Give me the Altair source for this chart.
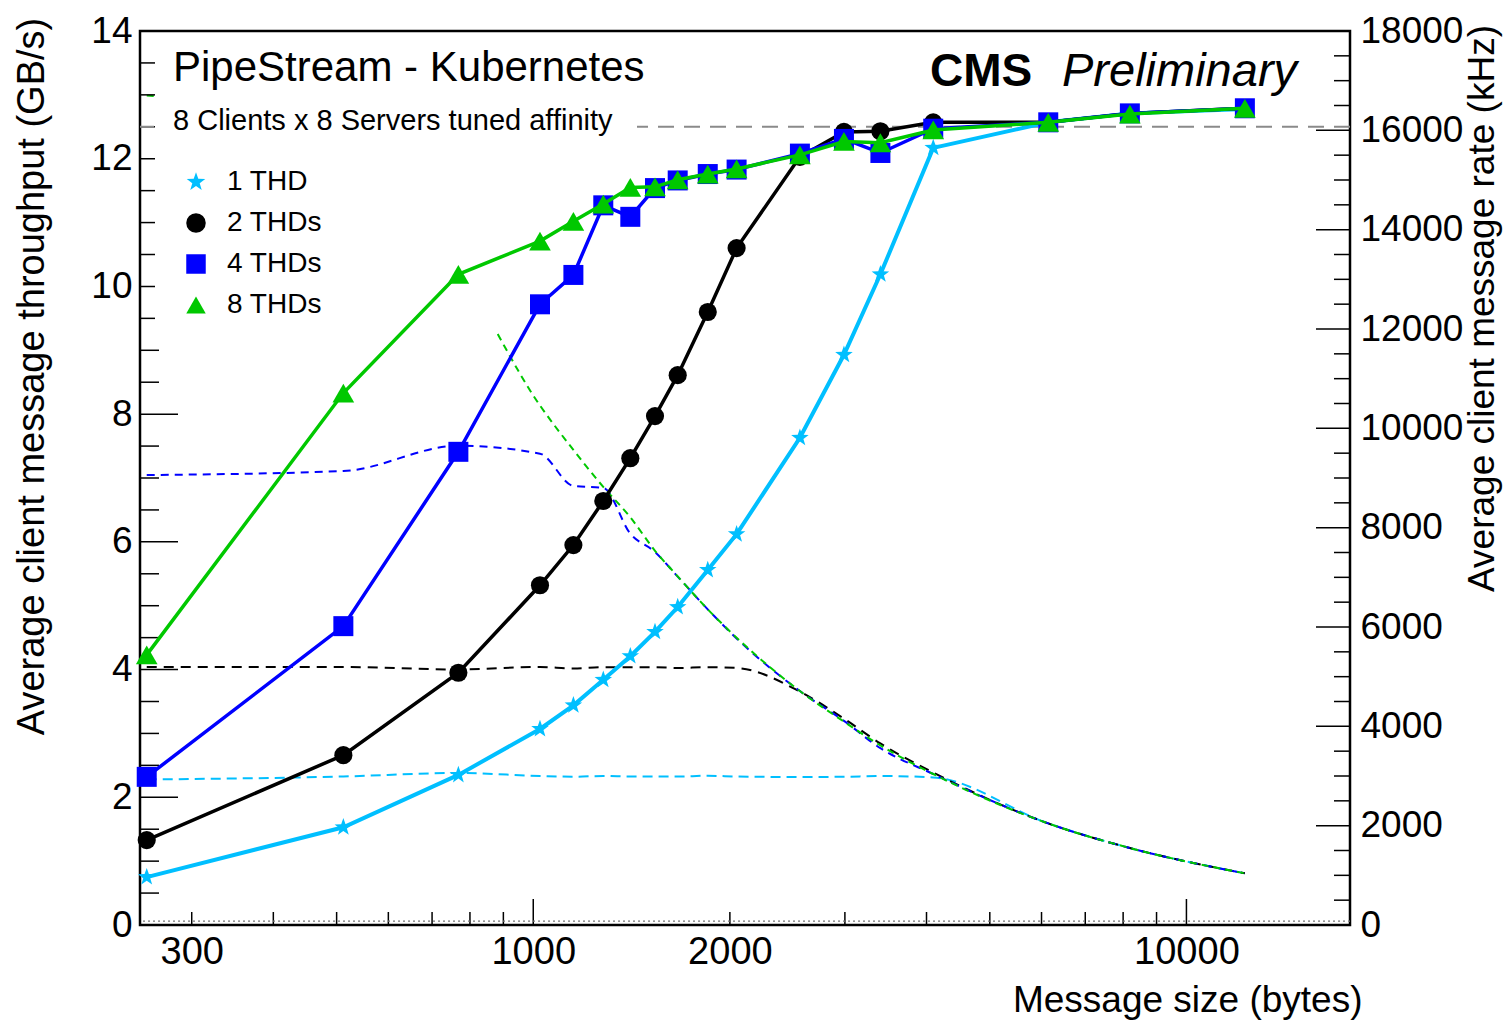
import altair as alt
import pandas as pd

FONT = "Liberation Sans"

# ---------------- data ----------------
sizes = [256, 512, 768, 1024, 1152, 1280, 1408, 1536, 1664, 1850, 2048,
         2560, 2990, 3400, 4096, 6144, 8192, 12288]
series_names = ["1 THD", "2 THDs", "4 THDs", "8 THDs"]

# throughput, GB/s (left axis)
thr_1 = [0.75, 1.53, 2.35, 3.07, 3.44, 3.84, 4.21, 4.59, 4.98, 5.56, 6.12,
         7.63, 8.93, 10.19, 12.17, 12.57, 12.71, 12.78]
thr_2 = [1.33, 2.66, 3.95, 5.32, 5.95, 6.64, 7.31, 7.97, 8.61, 9.60, 10.60,
         12.03, 12.42, 12.43, 12.57, 12.57, 12.71, 12.79]
thr_4 = [2.32, 4.68, 7.41, 9.72, 10.18, 11.27, 11.09, 11.54, 11.66, 11.76, 11.83,
         12.08, 12.31, 12.09, 12.47, 12.57, 12.71, 12.79]
thr_8 = [4.23, 8.33, 10.19, 10.71, 11.02, 11.29, 11.55, 11.56, 11.67, 11.76, 11.84,
         12.06, 12.27, 12.25, 12.45, 12.57, 12.70, 12.79]

# message rate, kHz (right axis, dashed)
rate_1 = [2930, 2990, 3060, 3000, 2985, 3000, 2990, 2990, 2990, 3005, 2990,
          2980, 2985, 3000, 2970, 2045, 1550, 1040]
rate_2 = [5195, 5195, 5145, 5195, 5165, 5190, 5190, 5190, 5175, 5190, 5175,
          4700, 4155, 3655, 3070, 2045, 1550, 1040]
rate_4 = [9060, 9140, 9650, 9490, 8840, 8800, 7880, 7510, 7015, 6355, 5770,
          4710, 4110, 3560, 3040, 2045, 1550, 1040]
rate_8 = [16700, 16270, 13270, 10460, 9565, 8820, 8210, 7535, 7020, 6355, 5785,
          4710, 4095, 3615, 3040, 2045, 1550, 1040]

throughputs = [thr_1, thr_2, thr_4, thr_8]
rates = [rate_1, rate_2, rate_4, rate_8]

ref_throughput = [12.5]          # grey dashed reference line
bottom_dotted = [0.06]           # dotted line along the bottom

x_tick_labels = [300, 1000, 2000, 10000]
x_major_ticks = [1000, 10000]
x_minor_ticks = [300, 400, 500, 600, 700, 800, 900,
                 2000, 3000, 4000, 5000, 6000, 7000, 8000, 9000]
y_major_ticks = [0, 2, 4, 6, 8, 10, 12, 14]
y_minor_ticks = [v / 2 for v in range(1, 28) if v % 4 != 0]
r_major_ticks = list(range(0, 18001, 2000))
r_minor_ticks = [v for v in range(500, 18000, 500) if v % 2000 != 0]

# ---------------- styles ----------------
colors = ["#00BFFF", "#000000", "#0000FF", "#00C800"]
STAR = ("M0,-1L0.235,-0.324L0.951,-0.309L0.38,0.124L0.588,0.809L0,0.4"
        "L-0.588,0.809L-0.38,0.124L-0.951,-0.309L-0.235,-0.324Z")
shapes = [STAR, "circle", "square", "triangle-up"]
marker_sizes = [340, 330, 400, 470]
line_widths = [4, 3.5, 3.5, 3.5]
dash_patterns = [[10, 6], [10, 7], [8, 6], [7, 5]]

W, H = 1210, 894

rows = []
for name, thr, rate in zip(series_names, throughputs, rates):
    for s, t, r in zip(sizes, thr, rate):
        rows.append({"series": name, "size": s, "thr": t, "rate": r})
df = pd.DataFrame(rows)


def xs():
    return alt.Scale(type="log", domain=[250, 17800], nice=False)


def ys():
    return alt.Scale(domain=[0, 14], nice=False, zero=False)


def rs():
    return alt.Scale(domain=[0, 18000], nice=False, zero=False)


color_scale = alt.Scale(domain=series_names, range=colors)
shape_scale = alt.Scale(domain=series_names, range=shapes)

legend = alt.Legend(orient="none", legendX=42, legendY=137, title=None,
                    labelFontSize=28, labelFont=FONT, labelColor="black",
                    symbolSize=380, symbolStrokeWidth=0, rowPadding=13,
                    labelOffset=17, padding=0, labelLimit=0)

x_axis = alt.Axis(orient="bottom", values=x_tick_labels, format="d", ticks=False,
                  domain=False, grid=False, labelFontSize=38, labelFont=FONT,
                  labelColor="black", labelPadding=8, labelFlush=False,
                  labelOverlap=False,
                  title="Message size (bytes)", titleFontSize=37, titleFont=FONT,
                  titleFontWeight="normal", titleColor="black",
                  titleX=1222, titleY=75, titleAlign="right", titleBaseline="middle")

y_axis = alt.Axis(orient="left", values=y_major_ticks, format="d", ticks=False,
                  domain=False, grid=False, labelFontSize=37, labelFont=FONT,
                  labelColor="black", labelPadding=8, labelFlush=False,
                  labelOverlap=False,
                  title="Average client message throughput (GB/s)", titleFontSize=38,
                  titleFont=FONT, titleFontWeight="normal", titleColor="black",
                  titleAngle=270, titleX=-108, titleY=345, titleAlign="center",
                  titleBaseline="middle")

r_axis = alt.Axis(orient="right", values=r_major_ticks, format="d", ticks=False,
                  domain=False, grid=False, labelFontSize=37, labelFont=FONT,
                  labelColor="black", labelPadding=10, labelFlush=False,
                  labelOverlap=False,
                  title="Average client message rate (kHz)", titleFontSize=37,
                  titleFont=FONT, titleFontWeight="normal", titleColor="black",
                  titleAngle=270, titleX=132, titleY=277, titleAlign="center",
                  titleBaseline="middle")


def X(field):
    # every layer carries the same x axis definition so they merge cleanly
    return alt.X(field, scale=xs(), axis=x_axis)


layers = []

# dashed message-rate curves (right axis)
for i, name in enumerate(series_names):
    layers.append(
        alt.Chart(df).transform_filter(alt.datum.series == name)
        .mark_line(color=colors[i], strokeDash=dash_patterns[i], strokeWidth=2,
                   interpolate="monotone")
        .encode(x=X("size:Q"), y=alt.Y("rate:Q", scale=rs(), axis=None))
    )

# right axis ticks
layers.append(alt.Chart(pd.DataFrame({"v": r_minor_ticks})).mark_rule(
    color="black", strokeWidth=1.5).encode(
    y=alt.Y("v:Q", scale=rs(), axis=None), x=alt.value(W), x2=alt.value(W - 16)))
layers.append(alt.Chart(pd.DataFrame({"v": r_major_ticks})).mark_rule(
    color="black", strokeWidth=1.5).encode(
    y=alt.Y("v:Q", scale=rs(), axis=r_axis), x=alt.value(W), x2=alt.value(W - 34)))

# left axis ticks
layers.append(alt.Chart(pd.DataFrame({"v": y_minor_ticks})).mark_rule(
    color="black", strokeWidth=1.5).encode(
    y=alt.Y("v:Q", scale=ys(), axis=None), x=alt.value(0), x2=alt.value(19)))
layers.append(alt.Chart(pd.DataFrame({"v": y_major_ticks})).mark_rule(
    color="black", strokeWidth=1.5).encode(
    y=alt.Y("v:Q", scale=ys(), axis=y_axis), x=alt.value(0), x2=alt.value(38)))

# bottom axis ticks
layers.append(alt.Chart(pd.DataFrame({"v": x_minor_ticks})).mark_rule(
    color="black", strokeWidth=1.5).encode(
    x=X("v:Q"), y=alt.value(H), y2=alt.value(H - 13)))
layers.append(alt.Chart(pd.DataFrame({"v": x_major_ticks})).mark_rule(
    color="black", strokeWidth=1.5).encode(
    x=X("v:Q"), y=alt.value(H), y2=alt.value(H - 26)))

# reference lines
layers.append(alt.Chart(pd.DataFrame({"v": ref_throughput})).mark_rule(
    color="#8a8a8a", strokeDash=[16, 10], strokeWidth=2).encode(
    y=alt.Y("v:Q", scale=ys(), axis=None)))
layers.append(alt.Chart(pd.DataFrame({"v": bottom_dotted})).mark_rule(
    color="#777777", strokeDash=[2, 3], strokeWidth=1.3).encode(
    y=alt.Y("v:Q", scale=ys(), axis=None)))

# white boxes behind the title and legend
one = pd.DataFrame({"a": [0]})
layers.append(alt.Chart(one).mark_rect(color="white").encode(
    x=alt.value(15), x2=alt.value(497), y=alt.value(5), y2=alt.value(109)))
layers.append(alt.Chart(one).mark_rect(color="white").encode(
    x=alt.value(15), x2=alt.value(357), y=alt.value(109), y2=alt.value(304)))


def label(text, x, y, size, **kw):
    return alt.Chart(pd.DataFrame({"t": [text]})).mark_text(
        align="left", baseline="alphabetic", fontSize=size, font=FONT,
        color="black", **kw).encode(text="t:N", x=alt.value(x), y=alt.value(y))


layers += [
    label("PipeStream - Kubernetes", 33, 50, 42),
    label("8 Clients x 8 Servers tuned affinity", 33, 99, 29),
    label("CMS", 790, 55, 46, fontWeight="bold"),
    label("Preliminary", 922, 55, 47, fontStyle="italic"),
]

# throughput curves with markers (left axis)
for i, name in enumerate(series_names):
    base = alt.Chart(df).transform_filter(alt.datum.series == name)
    layers.append(
        base.mark_line(color=colors[i], strokeWidth=line_widths[i]).encode(
            x=X("size:Q"), y=alt.Y("thr:Q", scale=ys(), axis=None))
    )
    layers.append(
        base.mark_point(filled=True, opacity=1, size=marker_sizes[i], strokeWidth=0)
        .encode(x=X("size:Q"),
                y=alt.Y("thr:Q", scale=ys(), axis=None),
                color=alt.Color("series:N", scale=color_scale, legend=legend),
                shape=alt.Shape("series:N", scale=shape_scale, legend=legend))
    )

chart = (
    alt.layer(*layers)
    .resolve_scale(y="independent")
    .properties(width=W, height=H,
                padding={"left": 140, "top": 31, "right": 156, "bottom": 98},
                autosize=alt.AutoSizeParams(type="none"),
                background="white")
    .configure(font=FONT)
    .configure_view(stroke="black", strokeWidth=2.5)
)

chart.save("out.html", embed_options={"renderer": "svg", "actions": False})
